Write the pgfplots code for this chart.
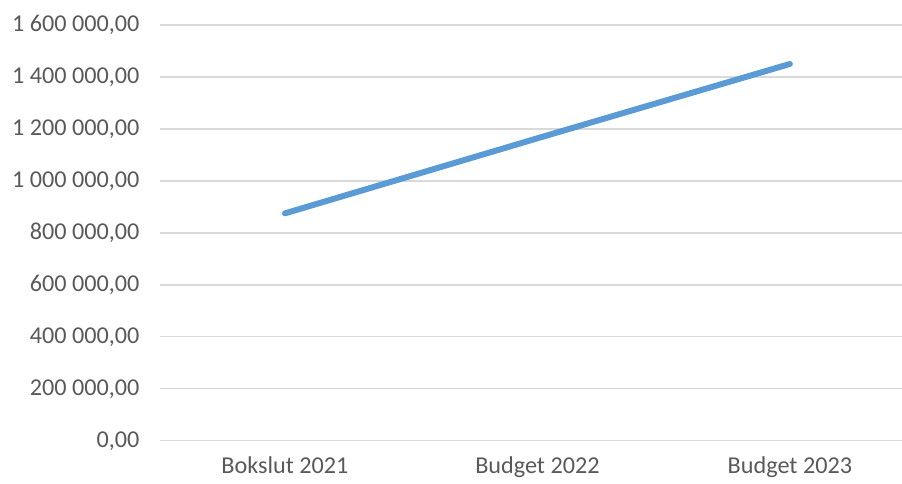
\documentclass[border=0pt]{standalone}
\usepackage{pgfplots}
\pgfplotsset{compat=1.18}
\usepackage{fontspec}
\setmainfont{Carlito}
\definecolor{lineblue}{HTML}{5B9BD5}
\definecolor{gridgray}{HTML}{D9D9D9}
\definecolor{labelgray}{HTML}{595959}
\begin{document}
\begin{tikzpicture}
\path[use as bounding box] (-160pt,-43.3pt) rectangle (742pt,440.7pt);
\begin{axis}[
  at={(0pt,0pt)}, anchor=south west,
  scale only axis,
  width=742pt, height=415.7pt,
  xmin=-0.495, xmax=2.444,
  ymin=0, ymax=1600000,
  axis line style={draw=none},
  clip=true,
  xtick={0,1,2},
  xticklabels={Bokslut 2021,Budget 2022,Budget 2023},
  ytick={0,200000,400000,600000,800000,1000000,1200000,1400000,1600000},
  yticklabels={{0,00},{200 000,00},{400 000,00},{600 000,00},{800 000,00},{1 000 000,00},{1 200 000,00},{1 400 000,00},{1 600 000,00}},
  major tick length=0pt,
  ymajorgrids,
  grid style={gridgray, line width=1.4pt},
  tick label style={font=\fontsize{24.2}{29}\selectfont, text=labelgray},
  yticklabel style={xshift=-17pt},
  xticklabel style={yshift=-12pt},
  scaled y ticks=false,
]
\addplot[lineblue, line width=6pt, line cap=round, line join=round] coordinates {
  (0,875000) (1,1164000) (2,1450000)
};
\end{axis}
\end{tikzpicture}
\end{document}
